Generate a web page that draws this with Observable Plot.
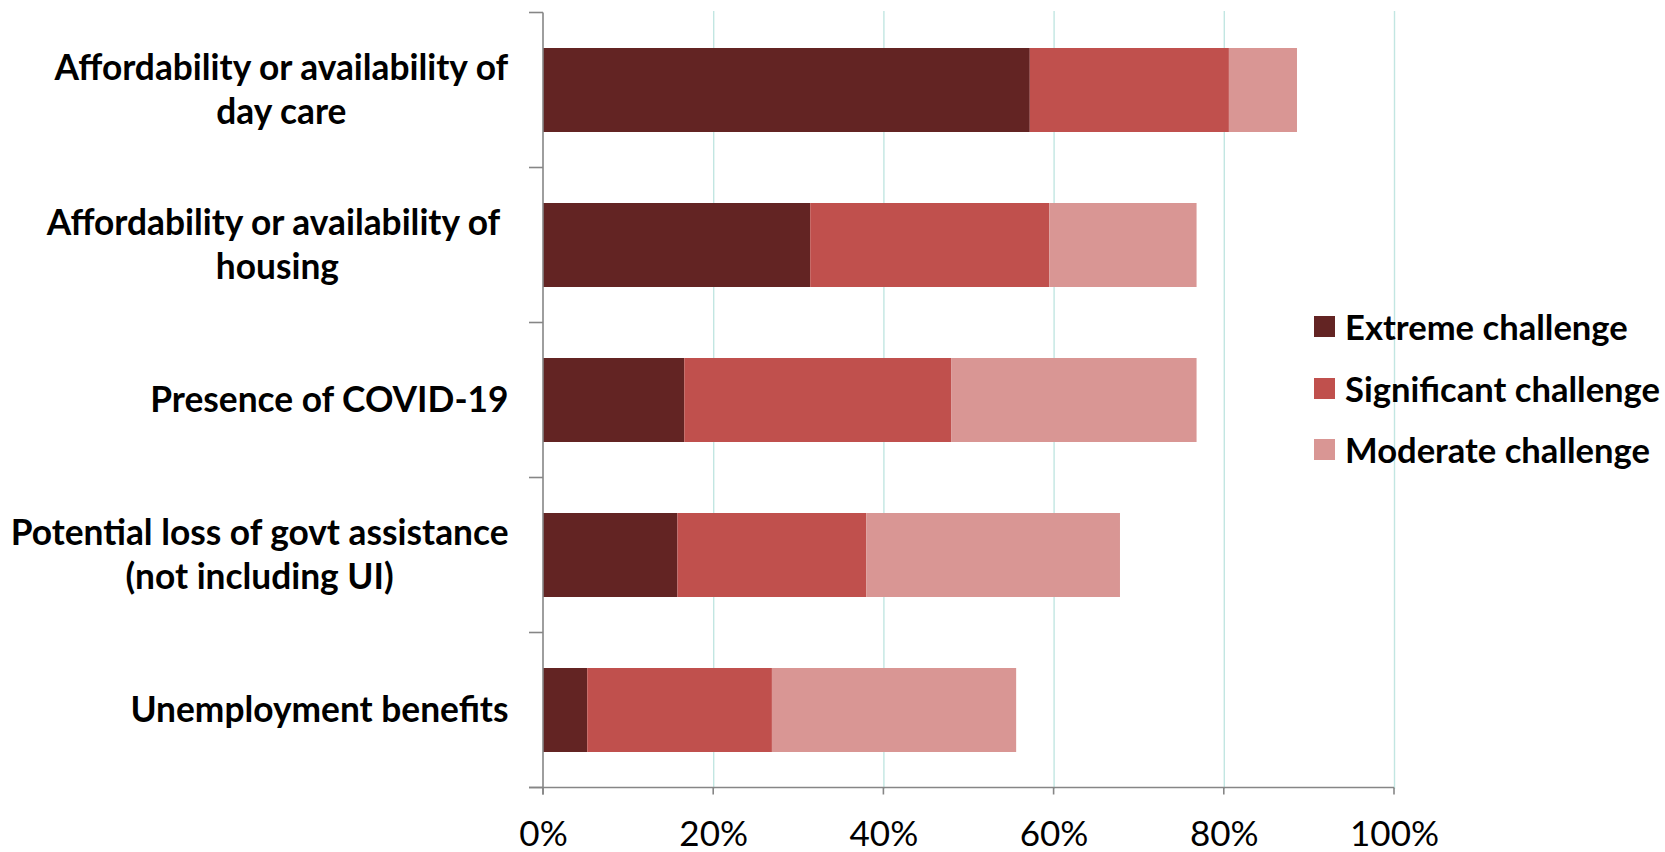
<!DOCTYPE html>
<html>
<head>
<meta charset="utf-8">
<script src="https://cdn.jsdelivr.net/npm/d3@7"></script>
<script src="https://cdn.jsdelivr.net/npm/@observablehq/plot@0.6"></script>
<style>
  html, body { margin: 0; padding: 0; background: #fff; }
  #wrap { position: relative; width: 1665px; height: 852px; overflow: hidden; }
  #legend { position: absolute; left: 1314px; top: 296px; font-family: Lato, sans-serif; font-weight: 700; font-size: 34.6px; color: #000; }
  #legend .row { display: flex; align-items: center; height: 61.5px; white-space: nowrap; }
  #legend .sw { width: 21px; height: 21px; margin-right: 10px; flex: none; }
  svg { overflow: visible; }
</style>
</head>
<body>
<div id="wrap"><div id="legend"></div></div>
<script>
// Survey categories (top to bottom) and how they are printed on the axis
const categories = [
  "Affordability or availability of day care",
  "Affordability or availability of housing",
  "Presence of COVID-19",
  "Potential loss of govt assistance (not including UI)",
  "Unemployment benefits"
];
const categoryLabels = [
  "Affordability or availability of\nday care",
  "Affordability or availability of \nhousing",
  "Presence of COVID-19",
  "Potential loss of govt assistance\n(not including UI)",
  "Unemployment benefits"
];

// Share of respondents (%) for each level of challenge
const levels = ["Extreme challenge", "Significant challenge", "Moderate challenge"];
const extreme     = [57.2, 31.4, 16.6, 15.8, 5.2];
const significant = [23.4, 28.1, 31.4, 22.2, 21.7];
const moderate    = [8.0, 17.3, 28.8, 29.8, 28.7];
const colors = ["#632423", "#c0504d", "#d99694"];

const xTicks = [0, 20, 40, 60, 80, 100];

const seriesValues = [extreme, significant, moderate];
const rows = levels.flatMap((level, s) =>
  categories.map((category, i) => ({category, level, value: seriesValues[s][i]}))
);

const axisColor = "#868686";
const gridColor = "#c2e6e2";

// Axis lines plus the Excel-style ticks at category boundaries
function axisFrame(index, scales) {
  const {x, y} = scales;
  const gap = (y.step() - y.bandwidth()) / 2;
  const dom = y.domain();
  const bounds = dom.map(c => y(c) - gap);
  bounds.push(y(dom[dom.length - 1]) + y.bandwidth() + gap);
  const x0 = x(0), x1 = x(100);
  const top = bounds[0], bottom = bounds[bounds.length - 1];
  const yTick = 14, xTick = 7;
  const g = d3.create("svg:g").attr("stroke", axisColor).attr("stroke-width", 1.6).attr("fill", "none");
  g.append("line").attr("x1", x0).attr("x2", x0).attr("y1", top).attr("y2", bottom + xTick);
  g.append("line").attr("x1", x0 - yTick).attr("x2", x1).attr("y1", bottom).attr("y2", bottom);
  for (const b of bounds) g.append("line").attr("x1", x0 - yTick).attr("x2", x0).attr("y1", b).attr("y2", b);
  for (const t of xTicks) g.append("line").attr("x1", x(t)).attr("x2", x(t)).attr("y1", bottom).attr("y2", bottom + xTick);
  return g.node();
}

const chart = Plot.plot({
  width: 1665,
  height: 852,
  marginLeft: 543,
  marginRight: 271,
  marginTop: 11,
  marginBottom: 63,
  style: {fontFamily: "Lato, sans-serif", color: "#000", background: "transparent", overflow: "visible"},
  x: {domain: [0, 100]},
  y: {domain: categories, paddingInner: 0.46, paddingOuter: 0.23},
  color: {domain: levels, range: colors},
  marks: [
    Plot.gridX({ticks: xTicks.filter(t => t > 0), stroke: gridColor, strokeOpacity: 1, strokeWidth: 1.4}),
    Plot.barX(rows, {y: "category", x: "value", fill: "level"}),
    axisFrame,
    Plot.axisX({ticks: xTicks, tickFormat: d => d + "%", tickSize: 0, tickPadding: 32, fontSize: 35, label: null}),
    Plot.axisY({
      tickSize: 0, tickPadding: 35, fontSize: 35.3, fontWeight: "bold", lineHeight: 1.26, dy: -3, label: null,
      tickFormat: d => categoryLabels[categories.indexOf(d)]
    })
  ]
});

const wrap = document.getElementById("wrap");
wrap.insertBefore(chart, wrap.firstChild);

// Centre the lines of each wrapped category label inside its right-aligned block
for (const text of chart.querySelectorAll('g[aria-label="y-axis tick label"] text')) {
  text.style.whiteSpace = "pre";
  const spans = text.querySelectorAll("tspan");
  if (spans.length < 2) continue;
  const bb = text.getBBox();
  const cx = bb.x + bb.width / 2;
  text.setAttribute("text-anchor", "middle");
  for (const s of spans) s.setAttribute("x", cx);
}

// Legend
const legend = d3.select("#legend");
levels.forEach((level, i) => {
  const row = legend.append("div").attr("class", "row");
  row.append("div").attr("class", "sw").style("background", colors[i]);
  row.append("span").text(level);
});
</script>
</body>
</html>
